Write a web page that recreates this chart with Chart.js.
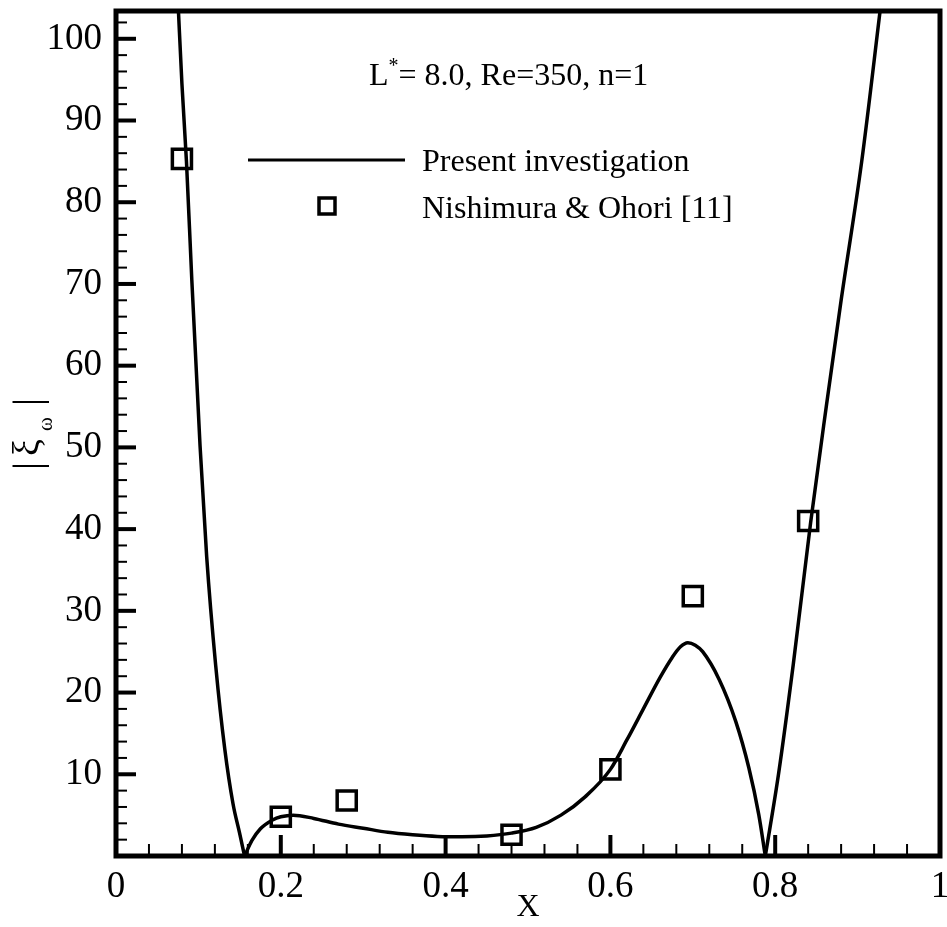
<!DOCTYPE html>
<html>
<head>
<meta charset="utf-8">
<script src="https://cdn.jsdelivr.net/npm/chart.js@4.4.1/dist/chart.umd.min.js"></script>
<style>
  html, body { margin: 0; padding: 0; background: #fff; }
  #wrap { width: 947px; height: 927px; position: relative; }
</style>
</head>
<body>
<div id="wrap"><canvas id="vortChart"></canvas></div>
<script>
// |xi_omega| along the wall, three branches of the computed curve (cusps at the zeros)
const leftX  = [0.0755, 0.080, 0.0855, 0.092, 0.102, 0.110, 0.121, 0.132, 0.142, 0.150, 0.156];
const leftY  = [104, 94.5, 85, 70.5, 50.2, 36.7, 23.3, 13.1, 6.4, 2.8, 0];

const midX = [0.156, 0.165, 0.175, 0.19, 0.20, 0.215, 0.24, 0.27, 0.30, 0.33, 0.36, 0.39, 0.42, 0.45, 0.48,
              0.51, 0.54, 0.57, 0.60, 0.62, 0.64, 0.66, 0.675, 0.685, 0.694, 0.703, 0.712, 0.732, 0.752, 0.768, 0.78, 0.788];
const midY = [0, 1.9, 3.3, 4.4, 4.8, 5.0, 4.6, 3.9, 3.4, 2.9, 2.6, 2.4, 2.35, 2.45, 2.8,
              3.5, 5.0, 7.3, 10.6, 14.2, 18.0, 21.8, 24.3, 25.6, 26.1, 25.8, 25.0, 21.6, 16.5, 10.8, 5.1, 0];

const rightX = [0.788, 0.804, 0.822, 0.843, 0.862, 0.880, 0.905, 0.928];
const rightY = [0, 10, 23.5, 40.8, 55, 68, 85, 104];

// Nishimura & Ohori [11]
const refX = [0.08, 0.20, 0.28, 0.48, 0.60, 0.70, 0.84];
const refY = [85.3, 4.8, 6.8, 2.6, 10.6, 31.8, 41.0];

const xTickValues = [0, 0.2, 0.4, 0.6, 0.8, 1];
const yTickValues = [10, 20, 30, 40, 50, 60, 70, 80, 90, 100];

const SERIF = '"Liberation Serif", "Times New Roman", serif';

const toPoints = (xs, ys) => xs.map((x, i) => ({ x: x, y: ys[i] }));

const curveStyle = {
    borderColor: '#000',
    borderWidth: 3.5,
    pointRadius: 0,
    fill: false,
    cubicInterpolationMode: 'monotone'
};

// inside tick marks, frame, legend, annotation and y title
const framePlugin = {
    id: 'frame',
    afterDatasetsDraw(chart) {
        const ctx = chart.ctx;
        const area = chart.chartArea;
        const xs = chart.scales.x, ys = chart.scales.y;
        ctx.save();
        ctx.strokeStyle = '#000';

        // y ticks, minor every 2, major every 10
        for (let v = 2; v <= 102; v += 2) {
            const py = ys.getPixelForValue(v);
            const major = v % 10 === 0;
            ctx.lineWidth = major ? 4 : 2;
            ctx.beginPath();
            ctx.moveTo(area.left, py);
            ctx.lineTo(area.left + (major ? 20 : 11), py);
            ctx.stroke();
        }
        // x ticks, minor every 0.04, major every 0.2
        for (let i = 1; i < 25; i++) {
            const v = i * 0.04;
            const px = xs.getPixelForValue(v);
            const major = i % 5 === 0;
            ctx.lineWidth = major ? 4 : 2;
            ctx.beginPath();
            ctx.moveTo(px, area.bottom);
            ctx.lineTo(px, area.bottom - (major ? 21 : 12));
            ctx.stroke();
        }

        ctx.lineWidth = 5;
        ctx.strokeRect(area.left, area.top, area.right - area.left, area.bottom - area.top);

        // legend
        ctx.lineWidth = 3;
        ctx.beginPath();
        ctx.moveTo(248, 160);
        ctx.lineTo(405, 160);
        ctx.stroke();
        ctx.lineWidth = 3.5;
        ctx.strokeRect(319, 198, 16, 16);

        ctx.fillStyle = '#000';
        ctx.textBaseline = 'alphabetic';
        ctx.textAlign = 'left';
        ctx.font = '32px ' + SERIF;
        ctx.fillText('Present investigation', 422, 171);
        ctx.fillText('Nishimura & Ohori [11]', 422, 218);

        // parameters
        ctx.fillText('L', 369, 85);
        let w = ctx.measureText('L').width;
        ctx.font = '20px ' + SERIF;
        ctx.fillText('*', 369 + w, 72);
        w += ctx.measureText('*').width;
        ctx.font = '32px ' + SERIF;
        ctx.fillText('= 8.0, Re=350, n=1', 369 + w, 85);

        // y title |ξω|, reading upward
        ctx.translate(31, 434);
        ctx.rotate(-Math.PI / 2);
        ctx.font = '40px ' + SERIF;
        ctx.fillText('|', -36, 9);
        ctx.fillText('|', 28, 9);
        ctx.font = '38px ' + SERIF;
        ctx.fillText('ξ', -22, 8);
        ctx.font = '21px ' + SERIF;
        ctx.fillText('ω', 3, 21);
        ctx.restore();
    }
};

new Chart(document.getElementById('vortChart'), {
    type: 'line',
    data: {
        datasets: [
            Object.assign({ label: 'Present investigation', data: toPoints(leftX, leftY) }, curveStyle),
            Object.assign({ label: 'Present investigation (mid)', data: toPoints(midX, midY) }, curveStyle),
            Object.assign({ label: 'Present investigation (right)', data: toPoints(rightX, rightY) }, curveStyle),
            {
                label: 'Nishimura & Ohori [11]',
                data: toPoints(refX, refY),
                showLine: false,
                pointStyle: 'rect',
                pointRadius: 13.5,
                pointBorderWidth: 3.5,
                pointBorderColor: '#000',
                pointBackgroundColor: 'rgba(0,0,0,0)'
            }
        ]
    },
    options: {
        responsive: true,
        maintainAspectRatio: false,
        animation: false,
        layout: { autoPadding: false, padding: { top: 11, right: 7, left: 0, bottom: 0 } },
        plugins: { legend: { display: false }, tooltip: { enabled: false } },
        scales: {
            x: {
                type: 'linear',
                min: 0,
                max: 1,
                afterBuildTicks: (scale) => { scale.ticks = xTickValues.map(v => ({ value: v })); },
                afterFit: (scale) => {
                    scale.height = 71;
                    scale.paddingLeft = 0;
                    scale.paddingRight = 0;
                },
                grid: { display: false, drawTicks: false },
                border: { display: false },
                ticks: {
                    color: '#000',
                    font: { family: SERIF, size: 37 },
                    padding: 9,
                    maxRotation: 0,
                    callback: (v) => (v === 0 || v === 1) ? String(v) : v.toFixed(1)
                },
                title: {
                    display: true,
                    text: 'X',
                    color: '#000',
                    font: { family: SERIF, size: 32 },
                    padding: 0
                }
            },
            y: {
                type: 'linear',
                min: 0,
                max: 103.4,
                afterBuildTicks: (scale) => { scale.ticks = yTickValues.map(v => ({ value: v })); },
                afterFit: (scale) => {
                    scale.width = 116;
                    scale.paddingTop = 0;
                    scale.paddingBottom = 0;
                },
                grid: { display: false, drawTicks: false },
                border: { display: false },
                ticks: {
                    color: '#000',
                    font: { family: SERIF, size: 37 },
                    padding: 14
                }
            }
        }
    },
    plugins: [framePlugin]
});
</script>
</body>
</html>
